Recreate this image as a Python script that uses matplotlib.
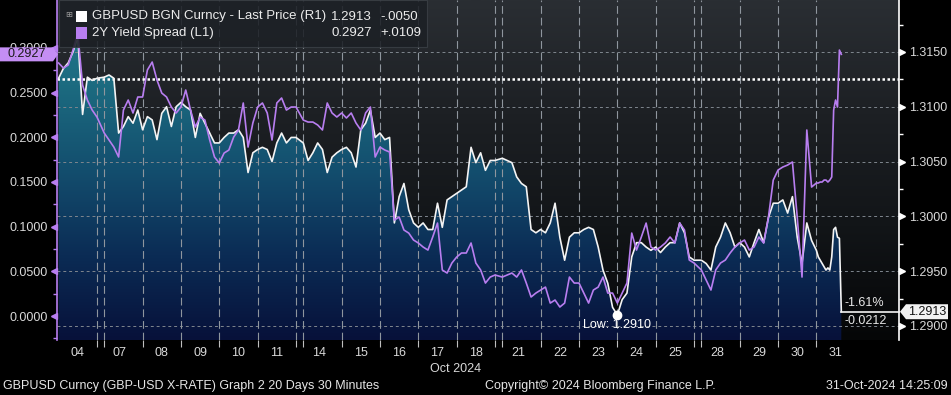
import numpy as np
import matplotlib
matplotlib.use("Agg")
import matplotlib.pyplot as plt
from matplotlib.patches import Rectangle, Polygon
from matplotlib.colors import LinearSegmentedColormap
from matplotlib.transforms import blended_transform_factory

plt.rcParams['font.family'] = ['Liberation Sans', 'DejaVu Sans']

# trading sessions on the 30-minute axis ('sun' = short Sunday evening open)
session_day = ['04', '06', '07', '08', '09', '10', '11', '13', '14', '15', '16', '17', '18',
               '20', '21', '22', '23', '24', '25', '27', '28', '29', '30', '31']
session_kind = ['wd', 'sun', 'wd', 'wd', 'wd', 'wd', 'wd', 'sun', 'wd', 'wd', 'wd', 'wd', 'wd',
                'sun', 'wd', 'wd', 'wd', 'wd', 'wd', 'sun', 'wd', 'wd', 'wd', 'last']

# GBPUSD (right axis), 8 readings per weekday, 1 per Sunday open, 14 on the 31st
gbpusd = [
    1.3126, 1.3135, 1.3140, 1.3150, 1.3164, 1.3093, 1.3127, 1.3124,  # 04
    1.3126,                                                          # 06
    1.3127, 1.3129, 1.3126, 1.3076, 1.3082, 1.3091, 1.3085, 1.3097,  # 07
    1.3079, 1.3091, 1.3088, 1.3070, 1.3094, 1.3100, 1.3082, 1.3100,  # 08
    1.3104, 1.3100, 1.3097, 1.3072, 1.3094, 1.3085, 1.3076, 1.3067,  # 09
    1.3067, 1.3072, 1.3076, 1.3076, 1.3079, 1.3072, 1.3040, 1.3058,  # 10
    1.3061, 1.3063, 1.3061, 1.3050, 1.3067, 1.3076, 1.3067, 1.3072,  # 11
    1.3072,                                                          # 13
    1.3067, 1.3051, 1.3058, 1.3067, 1.3061, 1.3040, 1.3054, 1.3058,  # 14
    1.3061, 1.3063, 1.3058, 1.3045, 1.3079, 1.3085, 1.3097, 1.3072,  # 15
    1.3076, 1.3070, 1.3072, 1.2994, 1.3018, 1.3030, 1.3006, 1.2994,  # 16
    1.2990, 1.2994, 1.2988, 1.2988, 1.3012, 1.2990, 1.3015, 1.3018,  # 17
    1.3021, 1.3024, 1.3027, 1.3063, 1.3049, 1.3058, 1.3042, 1.3051,  # 18
    1.3051,                                                          # 20
    1.3053, 1.3051, 1.3049, 1.3036, 1.3030, 1.3027, 1.2988, 1.2985,  # 21
    1.2988, 1.2985, 1.2994, 1.3012, 1.2981, 1.2960, 1.2981, 1.2985,  # 22
    1.2985, 1.2988, 1.2990, 1.2988, 1.2972, 1.2951, 1.2939, 1.2917,  # 23
    1.2910, 1.2924, 1.2930, 1.2963, 1.2976, 1.2976, 1.2972, 1.2969,  # 24
    1.2972, 1.2967, 1.2972, 1.2976, 1.2976, 1.2994, 1.2985, 1.2963,  # 25
    1.2960,                                                          # 27
    1.2960, 1.2957, 1.2951, 1.2972, 1.2981, 1.2994, 1.2985, 1.2972,  # 28
    1.2976, 1.2972, 1.2963, 1.2976, 1.2988, 1.2976, 1.2999, 1.3012,  # 29
    1.3012, 1.3015, 1.3003, 1.3018, 1.2981, 1.2957, 1.2994, 1.2978,  # 30
    1.2969, 1.2963, 1.2960, 1.2957, 1.2954, 1.2951, 1.2953, 1.2951,
    1.2963, 1.2988, 1.2990, 1.2981, 1.2980, 1.2913,                  # 31
]

# 2Y yield spread (left axis)
spread = [
    0.2830, 0.2774, 0.2808, 0.2975, 0.3166, 0.2584, 0.2416, 0.2304,  # 04
    0.2226,                                                          # 06
    0.2047, 0.1969, 0.1890, 0.1779, 0.2304, 0.2416, 0.2271, 0.2450,  # 07
    0.2450, 0.2752, 0.2841, 0.2640, 0.2494, 0.2450, 0.2338, 0.2271,  # 08
    0.2338, 0.2528, 0.2304, 0.2114, 0.2226, 0.2192, 0.1969, 0.1779,  # 09
    0.1711, 0.1823, 0.1857, 0.2002, 0.2081, 0.2383, 0.1890, 0.2159,  # 10
    0.2338, 0.2383, 0.2271, 0.1969, 0.2383, 0.2439, 0.2304, 0.2338,  # 11
    0.2338,                                                          # 13
    0.2192, 0.2170, 0.2170, 0.2137, 0.2081, 0.2383, 0.2271, 0.2226,  # 14
    0.2271, 0.2215, 0.2271, 0.2159, 0.2081, 0.2271, 0.2338, 0.1779,  # 15
    0.1890, 0.1857, 0.1835, 0.1074, 0.1107, 0.0962, 0.0928, 0.0850,  # 16
    0.0817, 0.0772, 0.0738, 0.0884, 0.1040, 0.0515, 0.0481, 0.0593,  # 17
    0.0660, 0.0705, 0.0705, 0.0817, 0.0593, 0.0515, 0.0369, 0.0436,  # 18
    0.0459,                                                          # 20
    0.0436, 0.0459, 0.0481, 0.0436, 0.0515, 0.0369, 0.0213, 0.0257,  # 21
    0.0291, 0.0324, 0.0145, 0.0179, 0.0101, 0.0145, 0.0436, 0.0369,  # 22
    0.0369, 0.0257, 0.0145, 0.0291, 0.0324, 0.0436, 0.0257, 0.0257,  # 23
    0.0145, 0.0257, 0.0369, 0.0928, 0.0738, 0.0884, 0.1040, 0.0772,  # 24
    0.0738, 0.0772, 0.0817, 0.0884, 0.0817, 0.1040, 0.0962, 0.0626,  # 25
    0.0593,                                                          # 27
    0.0515, 0.0403, 0.0291, 0.0515, 0.0593, 0.0626, 0.0705, 0.0772,  # 28
    0.0817, 0.0850, 0.0738, 0.0772, 0.0884, 0.0817, 0.1107, 0.1521,  # 29
    0.1633, 0.1667, 0.1689, 0.1723, 0.1107, 0.0436, 0.2081, 0.1443,  # 30
    0.1488, 0.1488, 0.1499, 0.1499, 0.1521, 0.1521, 0.1499, 0.1521,
    0.1555, 0.2304, 0.2416, 0.2338, 0.2975, 0.2927,                  # 31
]

gbp_start = 1.3125
gbp_change_pct = '-1.61%'
gbp_change_abs = '-0.0212'
legend_rows = [('GBPUSD BGN Curncy - Last Price (R1)', '1.2913', '-.0050'),
               ('2Y Yield Spread (L1)', '0.2927', '+.0109')]
footer_left = 'GBPUSD Curncy (GBP-USD X-RATE) Graph 2 20 Days 30 Minutes'
footer_mid = 'Copyright\u00a9 2024 Bloomberg Finance L.P.'
footer_right = '31-Oct-2024 14:25:09'
month_label = 'Oct 2024'

left_ticks = [0.0, 0.05, 0.10, 0.15, 0.20, 0.25, 0.30]
right_ticks = [1.290, 1.295, 1.300, 1.305, 1.310, 1.315]

PURPLE = '#b87ef0'
W, H = 951, 395

# build the trading-time x positions
kind_len = {'wd': 1.0, 'sun': 0.19, 'last': 1.0}
kind_n = {'wd': 8, 'sun': 1, 'last': 14}
kind_step = {'wd': 1 / 8, 'sun': 0.19, 'last': 0.05}
xs, starts = [], []
t = 0.0
for kind in session_kind:
    starts.append(t)
    xs.extend(t + np.arange(kind_n[kind]) * kind_step[kind])
    t += kind_len[kind]
xs = np.array(xs)
gbp = np.array(gbpusd)
spr = np.array(spread)

centers, labels = [], []
for i, (d, kind) in enumerate(zip(session_day, session_kind)):
    if kind == 'sun':
        continue
    left = starts[i - 1] if i > 0 and session_kind[i - 1] == 'sun' else starts[i]
    centers.append((left + starts[i] + 1.0) / 2)
    labels.append(d)

fig = plt.figure(figsize=(W / 100, H / 100), dpi=100, facecolor='black')
ax = fig.add_axes([57 / W, 1 - 340 / H, 842 / W, 340 / H])
ax2 = ax.twinx()
ax.set_zorder(3)
ax.patch.set_visible(False)
ax2.set_zorder(2)

xlim = (-0.042, 21.914)
ylim_l = (-0.0268, 0.3535)
ylim_r = (1.28872, 1.31974)

grad = np.linspace(0, 1, 256).reshape(-1, 1)
bg_cmap = LinearSegmentedColormap.from_list('bg', ['#050607', '#121518', '#1d2024', '#2a2e33'])
fill_cmap = LinearSegmentedColormap.from_list('fill', ['#07113a', '#0b2c55', '#134e6e', '#1c6b80', '#237a8f'])
ext = [xlim[0], xlim[1], ylim_r[0], ylim_r[1]]
ax2.imshow(grad, cmap=bg_cmap, aspect='auto', extent=ext, origin='lower', zorder=0)
poly = ax2.fill_between(xs, gbp, ylim_r[0], facecolor='none', linewidth=0, zorder=1)
img = ax2.imshow(grad, cmap=fill_cmap, aspect='auto', extent=ext, origin='lower', zorder=1)
img.set_clip_path(poly.get_paths()[0], transform=ax2.transData)

for v in right_ticks:
    ax2.axhline(v, color='#7f868e', lw=0.7, ls=(0, (3, 3)), zorder=1.5)
for b in starts[1:]:
    ax2.axvline(b, color='#8f969e', lw=0.8, ls=(0, (7, 3.5)), zorder=1.5)
ax2.axhline(gbp_start, color='white', lw=1.8, ls=(0, (1, 1)), zorder=2.5)

ax2.plot(xs, gbp, color='#f4f4f4', lw=1.2, zorder=3)
ax2.plot([xs[-1], xlim[1]], [gbp[-1], gbp[-1]], color='#f4f4f4', lw=1.2, zorder=3, clip_on=False)
ax.plot(xs, spr, color=PURPLE, lw=1.2, zorder=3)

# low marker
i_low = int(np.argmin(gbp))
ax2.plot(xs[i_low], gbp[i_low], 'o', ms=6, color='white', zorder=4)
ax2.annotate(f'Low: {gbp[i_low]:.4f}', (xs[i_low], gbp[i_low]), xytext=(0, -7.5),
             textcoords='offset points', ha='center', va='center', color='white', fontsize=9, zorder=5)
ax2.annotate(gbp_change_pct, (xs[-1], gbp[-1]), xytext=(2.5, 6), textcoords='offset points',
             ha='left', va='center', color='#e8e8e8', fontsize=9, zorder=5)
ax2.annotate(gbp_change_abs, (xs[-1], gbp[-1]), xytext=(2.5, -6.5), textcoords='offset points',
             ha='left', va='center', color='#e8e8e8', fontsize=9, zorder=5)

ax.set_xlim(*xlim)
ax.set_ylim(*ylim_l)
ax2.set_ylim(*ylim_r)

for s in ['top', 'right', 'bottom']:
    ax.spines[s].set_visible(False)
ax.spines['left'].set_color(PURPLE)
ax.spines['left'].set_linewidth(1.2)
for s in ['top', 'left', 'bottom']:
    ax2.spines[s].set_visible(False)
ax2.spines['right'].set_color('white')
ax2.spines['right'].set_linewidth(1.2)

# y ticks
ax.set_yticks(left_ticks, [f'{v:.4f}' for v in left_ticks])
ax.set_yticks(np.array(left_ticks) - 0.025, minor=True)
ax.tick_params(axis='y', which='major', length=0, pad=6.5, labelsize=9, labelcolor='#d9d9d9')
ax.tick_params(axis='y', which='minor', length=3, width=1, color=PURPLE)
ax2.set_yticks(right_ticks, [f'{v:.4f}' for v in right_ticks])
ax2.set_yticks(np.array(right_ticks) + 0.0025, minor=True)
ax2.tick_params(axis='y', which='major', length=0, pad=7, labelsize=9, labelcolor='#d9d9d9')
ax2.tick_params(axis='y', which='minor', length=3, width=1, color='white')
ax.plot(np.full(len(left_ticks), -0.003), left_ticks, ls='', marker='<', ms=5, color=PURPLE,
        transform=blended_transform_factory(ax.transAxes, ax.transData), clip_on=False, zorder=5)
ax2.plot(np.full(len(right_ticks), 1.003), right_ticks, ls='', marker='>', ms=5, color='white',
         transform=blended_transform_factory(ax2.transAxes, ax2.transData), clip_on=False, zorder=5)

# x ticks
ax.set_xticks(centers, labels)
ax.set_xticks(starts[1:], minor=True)
ax.tick_params(axis='x', which='major', length=0, pad=5, labelsize=9, labelcolor='#d9d9d9')
ax.tick_params(axis='x', which='minor', length=5, width=0.8, color='#bfbfbf')

# last value boxes
hl = 7 / 340 * (ylim_l[1] - ylim_l[0])
v = spr[-1]
fig.add_artist(Polygon([(0, v + hl), (53 / W, v + hl), (58 / W, v), (53 / W, v - hl), (0, v - hl)],
                       closed=True, facecolor='#c48ef4', edgecolor='none', zorder=6,
                       transform=blended_transform_factory(fig.transFigure, ax.transData)))
fig.text(27 / W, v, f'{v:.4f}', ha='center', va='center', fontsize=9, color='#1a1a1a', zorder=7,
         transform=blended_transform_factory(fig.transFigure, ax.transData))
hr = 7.5 / 340 * (ylim_r[1] - ylim_r[0])
v = gbp[-1]
fig.add_artist(Polygon([(900 / W, v), (906 / W, v + hr), (948 / W, v + hr), (948 / W, v - hr), (906 / W, v - hr)],
                       closed=True, facecolor='#f2f2f2', edgecolor='none', zorder=6,
                       transform=blended_transform_factory(fig.transFigure, ax2.transData)))
fig.text(927 / W, v, f'{v:.4f}', ha='center', va='center', fontsize=9, color='#111111', zorder=7,
         transform=blended_transform_factory(fig.transFigure, ax2.transData))

# legend box
fig.add_artist(Rectangle((59 / W, 1 - 47 / H), (427 - 59) / W, 47 / H, transform=fig.transFigure,
                         facecolor='#1c2025', edgecolor='#3a3f45', lw=0.8, alpha=0.88, zorder=10))
fig.text(69 / W, 1 - 15.5 / H, '\u229e', ha='center', va='center', fontsize=6, color='#9a9a9a', zorder=11)
for name_val, col, yy in zip(legend_rows, ['white', PURPLE], [16.5, 33]):
    name, val, chg = name_val
    fig.add_artist(Rectangle((76 / W, 1 - (yy + 5.5) / H), 11 / W, 11 / H, transform=fig.transFigure,
                             facecolor=col, edgecolor='none', zorder=11))
    fig.text(92 / W, 1 - yy / H, name, ha='left', va='center', fontsize=9.5, color='#ececec', zorder=11)
    fig.text(372 / W, 1 - yy / H, val, ha='right', va='center', fontsize=9.5, color='#ececec', zorder=11)
    fig.text(380 / W, 1 - yy / H, chg, ha='left', va='center', fontsize=9.5, color='#ececec', zorder=11)

fig.text(456 / W, 1 - 369 / H, month_label, ha='center', va='center', fontsize=9, color='#d9d9d9')
fig.text(3 / W, 1 - 386 / H, footer_left, ha='left', va='center', fontsize=9, color='#e6e6e6')
fig.text(600 / W, 1 - 386 / H, footer_mid, ha='center', va='center', fontsize=9, color='#e6e6e6')
fig.text(948 / W, 1 - 386 / H, footer_right, ha='right', va='center', fontsize=9, color='#e6e6e6')

fig.savefig('out.png', dpi=100, facecolor='black')
